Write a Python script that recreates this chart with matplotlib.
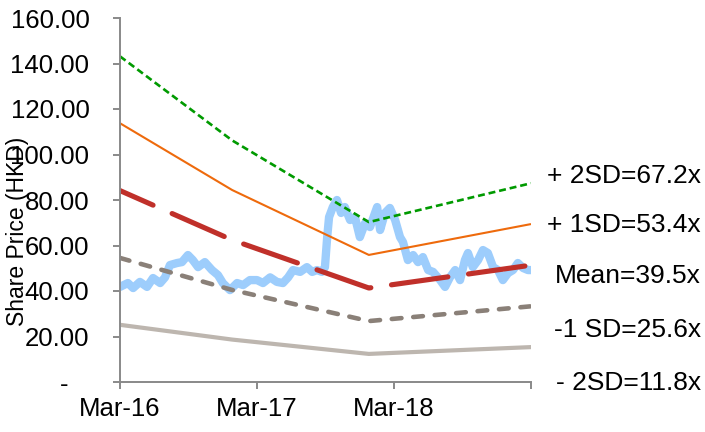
import numpy as np
import pandas as pd
import matplotlib
matplotlib.use('Agg')
import matplotlib.pyplot as plt

plt.rcParams['lines.scale_dashes'] = False

# share price, HKD
price_dates = ['2016-03-01', '2016-03-22', '2016-04-05', '2016-04-23', '2016-05-12', '2016-05-28',
               '2016-06-16', '2016-06-29', '2016-07-12', '2016-07-31', '2016-08-13', '2016-08-29',
               '2016-09-11', '2016-09-25', '2016-10-13', '2016-11-01', '2016-11-17', '2016-11-30',
               '2016-12-19', '2017-01-07', '2017-01-23', '2017-02-10', '2017-03-01', '2017-03-17',
               '2017-04-05', '2017-04-23', '2017-05-09', '2017-05-23', '2017-06-05', '2017-06-24',
               '2017-07-12', '2017-07-26', '2017-08-08', '2017-08-21', '2017-08-29', '2017-09-04',
               '2017-09-09', '2017-09-19', '2017-09-30', '2017-10-11', '2017-10-21', '2017-11-04',
               '2017-11-17', '2017-11-30', '2017-12-14', '2017-12-27', '2018-01-15', '2018-01-23',
               '2018-02-05', '2018-02-18', '2018-03-04', '2018-03-17', '2018-03-25', '2018-04-07',
               '2018-04-21', '2018-05-04', '2018-05-17', '2018-05-31', '2018-06-13', '2018-07-02',
               '2018-07-15', '2018-07-28', '2018-08-11', '2018-08-24', '2018-09-06', '2018-09-14',
               '2018-09-27', '2018-10-11', '2018-10-24', '2018-11-06', '2018-11-20', '2018-12-03',
               '2018-12-16', '2018-12-30', '2019-01-12', '2019-01-25', '2019-02-08', '2019-02-21',
               '2019-03-01']
price = [41.8, 43.5, 41.3, 44.0, 41.8, 45.7,
         43.5, 46.0, 51.4, 52.3, 52.7, 55.8,
         53.6, 50.5, 52.7, 49.2, 47.0, 43.5,
         40.4, 43.5, 42.6, 44.8, 44.8, 43.5,
         46.0, 44.0, 43.5, 46.0, 49.2, 48.4,
         50.5, 48.4, 49.2, 48.4, 50.5, 63.7,
         72.5, 76.9, 80.0, 74.3, 76.9, 71.2,
         72.5, 63.7, 69.9, 68.1, 76.9, 66.8,
         74.3, 76.5, 71.2, 63.7, 61.5, 53.6,
         55.8, 52.7, 54.9, 49.2, 48.4, 44.8,
         41.8, 46.0, 49.2, 44.8, 53.6, 56.7,
         50.5, 53.6, 58.0, 56.7, 50.5, 49.2,
         44.8, 47.9, 49.2, 52.3, 50.1, 49.2,
         49.2]

# forward EPS used for the PE bands
eps_dates = ['2016-03-01', '2016-12-25', '2017-12-24', '2019-03-01']
eps = [2.13, 1.58, 1.046, 1.30]

band_names = ['+ 2SD', '+ 1SD', 'Mean', '-1 SD', '- 2SD']
band_multiples = [67.2, 53.4, 39.5, 25.6, 11.8]
band_colors = ['#009A00', '#EE6A0C', '#C0302A', '#8A8078', '#BDB6AF']
band_widths = [1.9, 1.5, 3.7, 3.3, 3.0]
band_styles = [(0, (5.0, 2.8)), '-', (15, (41.0, 15.0)), (0, (7.0, 8.5)), '-']
band_caps = ['butt', 'butt', 'round', 'round', 'round']
label_baselines = [183, 232, 283, 337, 390]

yticks = [0, 20, 40, 60, 80, 100, 120, 140, 160]
xtick_dates = ['2016-03-01', '2017-03-01', '2018-03-01', '2019-03-01']
xtick_labels = ['Mar-16', 'Mar-17', 'Mar-18', '']

fig = plt.figure(figsize=(7.05, 4.32), dpi=100)
ax = fig.add_axes([120/705, 50/432, 411/705, 364/432])

ax.plot(pd.to_datetime(price_dates), price, color='#9DCDFC', lw=6.0,
        solid_joinstyle='round', solid_capstyle='round', zorder=1)

ed = pd.to_datetime(eps_dates)
for m, c, w, ls, cap in zip(band_multiples, band_colors, band_widths,
                            band_styles, band_caps):
    vals = np.array(eps) * m
    ax.plot(ed, vals, color=c, lw=w, ls=ls, zorder=2,
            dash_capstyle=cap, solid_capstyle=cap, solid_joinstyle='round')

ax.set_xlim(pd.Timestamp('2016-03-01'), pd.Timestamp('2019-03-01'))
ax.set_ylim(0, 160)

ax.set_yticks(yticks)
ax.set_yticklabels(['-   ' if v == 0 else f'{v:.2f}' for v in yticks],
                   fontsize=18.5, family='Liberation Sans')
ax.set_xticks(pd.to_datetime(xtick_dates))
ax.set_xticklabels(xtick_labels, fontsize=18.5, family='Liberation Sans')

for s in ['top', 'right']:
    ax.spines[s].set_visible(False)
for s in ['left', 'bottom']:
    ax.spines[s].set_color('#898989')
    ax.spines[s].set_linewidth(1.4)
ax.tick_params(axis='y', length=5, width=1.4, color='#898989', pad=17)
ax.tick_params(axis='x', length=5, width=1.4, color='#898989', pad=6)

fig.text(18/705, 1 - 231/432, 'Share Price (HKD)', rotation=90, fontsize=16.5,
         family='Liberation Sans', ha='center', va='center')

for name, m, yb in zip(band_names, band_multiples, label_baselines):
    fig.text(701/705, 1 - yb/432, f'{name}={m:.1f}x', fontsize=19,
             family='Liberation Sans', ha='right', va='baseline')

fig.savefig('out.png', dpi=100)
